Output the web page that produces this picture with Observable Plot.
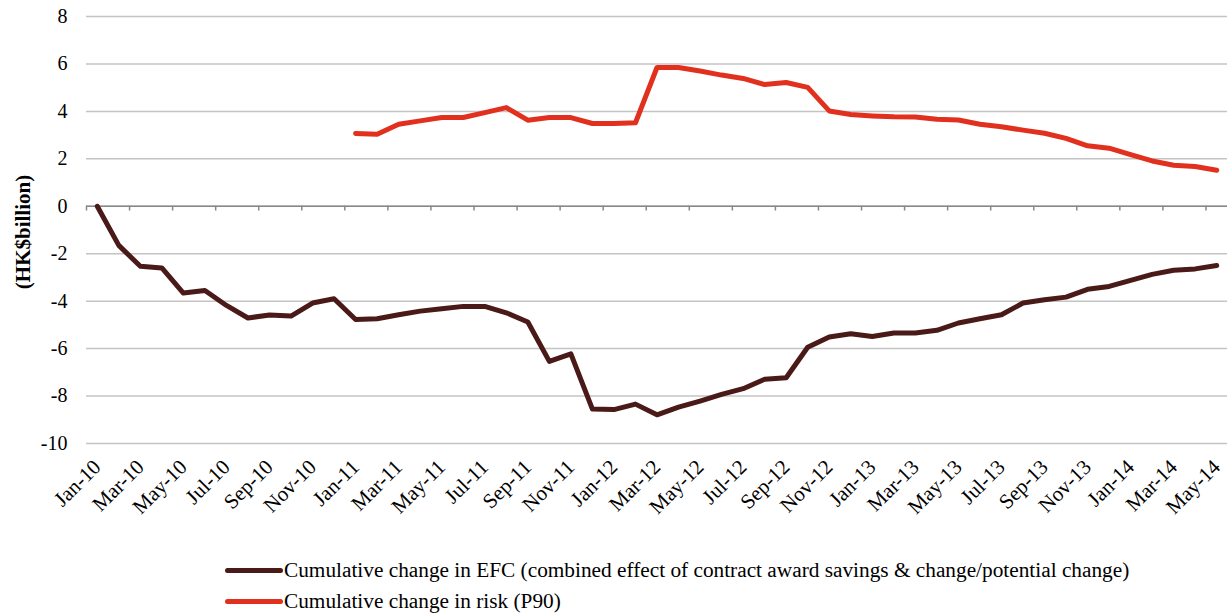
<!DOCTYPE html>
<html>
<head>
<meta charset="utf-8">
<script src="https://cdn.jsdelivr.net/npm/d3@7"></script>
<script src="https://cdn.jsdelivr.net/npm/@observablehq/plot@0.6"></script>
<style>
  html, body { margin: 0; padding: 0; background: #fff; }
  body { font-family: "Liberation Serif", "Times New Roman", serif; }
  #chart { width: 1227px; }
  .legend { margin-top: 15px; padding-left: 225px; font-size: 21.3px; color: #000; }
  .legend .row { display: flex; align-items: center; height: 31px; white-space: nowrap; }
  .legend .sw { width: 58px; height: 5px; border-radius: 2.5px; margin-right: 1px; flex: none; }
</style>
</head>
<body>
<div id="chart"></div>
<script>
const months = [
  "Jan-10","Feb-10","Mar-10","Apr-10","May-10","Jun-10","Jul-10","Aug-10","Sep-10","Oct-10","Nov-10","Dec-10",
  "Jan-11","Feb-11","Mar-11","Apr-11","May-11","Jun-11","Jul-11","Aug-11","Sep-11","Oct-11","Nov-11","Dec-11",
  "Jan-12","Feb-12","Mar-12","Apr-12","May-12","Jun-12","Jul-12","Aug-12","Sep-12","Oct-12","Nov-12","Dec-12",
  "Jan-13","Feb-13","Mar-13","Apr-13","May-13","Jun-13","Jul-13","Aug-13","Sep-13","Oct-13","Nov-13","Dec-13",
  "Jan-14","Feb-14","Mar-14","Apr-14","May-14"
];
const efc = [
  0, -1.65, -2.53, -2.6, -3.66, -3.55, -4.18, -4.71, -4.58, -4.63, -4.08, -3.9,
  -4.77, -4.74, -4.57, -4.42, -4.32, -4.22, -4.22, -4.49, -4.88, -6.54, -6.22, -8.55,
  -8.57, -8.34, -8.79, -8.47, -8.21, -7.93, -7.69, -7.29, -7.23, -5.94, -5.51, -5.37,
  -5.49, -5.34, -5.34, -5.23, -4.92, -4.74, -4.57, -4.08, -3.94, -3.83, -3.5, -3.38,
  -3.12, -2.87, -2.7, -2.64, -2.5
];
const riskStart = "Jan-11";
const risk = [
  3.07, 3.04, 3.46, 3.6, 3.74, 3.74, 3.95, 4.16, 3.63, 3.74, 3.74, 3.49,
  3.49, 3.52, 5.85, 5.85, 5.7, 5.53, 5.39, 5.13, 5.22, 5.01, 4.02, 3.87,
  3.81, 3.77, 3.76, 3.67, 3.64, 3.46, 3.35, 3.21, 3.08, 2.86, 2.55, 2.45,
  2.18, 1.91, 1.73, 1.68, 1.52
];
const yTicks = [-10, -8, -6, -4, -2, 0, 2, 4, 6, 8];
const seriesNames = [
  "Cumulative change in EFC (combined effect of contract award savings & change/potential change)",
  "Cumulative change in risk (P90)"
];
const seriesColors = ["#4a1a18", "#e2301f"];
const yLabel = "(HK$billion)";

const FONT = "'Liberation Serif', 'Times New Roman', serif";
const efcData = efc.map((v, i) => ({i, v}));
const r0 = months.indexOf(riskStart);
const riskData = risk.map((v, k) => ({i: r0 + k, v}));
const labelIdx = months.map((m, i) => i).filter(i => i % 2 === 0);
const boundaries = d3.range(-0.5, months.length, 2);

const chart = Plot.plot({
  width: 1227,
  height: 540,
  marginLeft: 86,
  marginRight: 0,
  marginTop: 16,
  marginBottom: 97,
  style: `font-family: ${FONT}; font-size: 20px; color: #000; background: #fff;`,
  x: {type: "linear", domain: [-0.5, months.length - 0.5]},
  y: {domain: [-10, 8]},
  marks: [
    Plot.gridY(yTicks, {stroke: "#c4c4c4", strokeOpacity: 1, strokeWidth: 1.5}),
    Plot.axisY(yTicks, {tickSize: 0, tickPadding: 19, label: null, fontSize: 20, fontFamily: FONT, tickFormat: d => String(d)}),
    Plot.axisX(labelIdx, {tickSize: 0, tickRotate: -45, tickPadding: 20, tickFormat: i => months[i], label: null, fontSize: 21, fontFamily: FONT}),
    Plot.ruleY([0], {stroke: "#888", strokeWidth: 1.5}),
    Plot.ruleX(boundaries, {y1: 0, y2: -0.2, stroke: "#888", strokeWidth: 1.5}),
    Plot.line(efcData, {x: "i", y: "v", stroke: seriesColors[0], strokeWidth: 5, strokeLinejoin: "round", strokeLinecap: "round"}),
    Plot.line(riskData, {x: "i", y: "v", stroke: seriesColors[1], strokeWidth: 5, strokeLinejoin: "round", strokeLinecap: "round"}),
    Plot.text([yLabel], {frameAnchor: "left", textAnchor: "middle", text: d => d, rotate: -90, dx: -63, dy: 2, fontWeight: "bold", fontSize: 21, fontFamily: FONT})
  ]
});
const root = document.getElementById("chart");
root.appendChild(chart);

const legend = document.createElement("div");
legend.className = "legend";
seriesNames.forEach((name, k) => {
  const row = document.createElement("div");
  row.className = "row";
  const sw = document.createElement("span");
  sw.className = "sw";
  sw.style.background = seriesColors[k];
  const tx = document.createElement("span");
  tx.textContent = name;
  row.appendChild(sw);
  row.appendChild(tx);
  legend.appendChild(row);
});
root.appendChild(legend);
</script>
</body>
</html>
